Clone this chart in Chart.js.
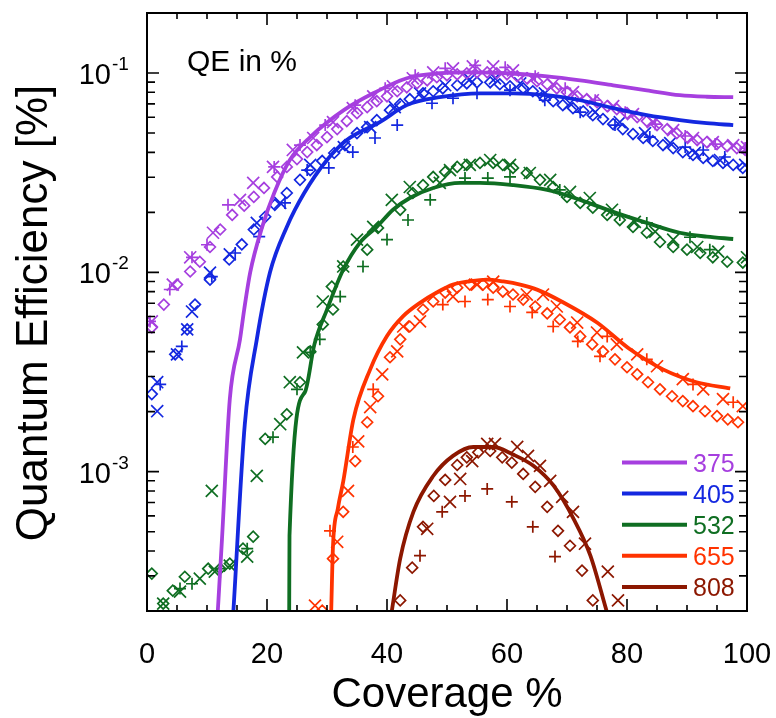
<!DOCTYPE html>
<html>
<head>
<meta charset="utf-8">
<script src="https://cdn.jsdelivr.net/npm/chart.js@4.4.1/dist/chart.umd.min.js"></script>
<style>
  html, body { margin: 0; padding: 0; background: #fff; }
  #wrap { width: 776px; height: 718px; }
</style>
</head>
<body>
<div id="wrap"><canvas id="qeChart" width="776" height="718"></canvas></div>
<script>
// laser wavelengths (nm) and colours
var waves = ['375', '405', '532', '655', '808'];
var colors = ['#a63fdf', '#1428e0', '#0f6e22', '#ff3300', '#8c1700'];

// axis ticks
var xTicks = [0, 20, 40, 60, 80, 100];
var yDecades = [1e-3, 1e-2, 1e-1];
var yExps = ['-3', '-2', '-1'];

// model curves [coverage %, QE %]
var fit375 = [[11.8,0.0002],[12.5,0.00046],[13.8,0.00231],[15.5,0.00461],[16.2,0.00651],[17.2,0.0100],[19.2,0.0169],[21.2,0.0250],[23.8,0.0366],[27.2,0.0477],[32.8,0.0651],[37.7,0.0791],[43.3,0.0941],[48.8,0.0997],[54.3,0.1008],[60,0.0997],[66.7,0.0963],[72.2,0.0919],[77.7,0.0868],[83.3,0.0819],[88.8,0.0774],[93.3,0.0760],[97.7,0.0756]];
var fit405 = [[14.4,0.0002],[16.3,0.00173],[18.3,0.00461],[20.5,0.0100],[23.3,0.0169],[26.2,0.0250],[30,0.0366],[33.3,0.0461],[38.8,0.0567],[43.3,0.0690],[48.8,0.0756],[55.5,0.0791],[61,0.0791],[66.7,0.0774],[72.2,0.0730],[77.7,0.0666],[83.3,0.0614],[88.8,0.0580],[93.3,0.0560],[97.7,0.0548]];
var fit532 = [[23.7,0.0002],[23.75,0.000476],[26.3,0.0025],[27.9,0.00435],[30,0.0065],[32.7,0.0103],[35.5,0.0141],[38.3,0.0169],[41,0.0206],[43.8,0.0236],[47.7,0.0265],[52.2,0.0281],[55.5,0.0281],[61,0.0274],[66.7,0.0259],[72.2,0.0231],[77.7,0.0201],[83.3,0.0177],[88.8,0.0158],[93.3,0.0151],[97.7,0.0147]];
var fit655 = [[30.7,0.0002],[31.0,0.000425],[31.8,0.000651],[32.7,0.000891],[34.4,0.00183],[37.2,0.00326],[40,0.00479],[42.7,0.00603],[45.5,0.00703],[48.3,0.00792],[51,0.00868],[53.8,0.00902],[56.6,0.0092],[59.4,0.0090],[62.2,0.00868],[65,0.00819],[69.4,0.00706],[75,0.0056],[80.5,0.00411],[86,0.00326],[91.6,0.00281],[97.2,0.00262]];
var fit808 = [[40.8,0.0002],[42.2,0.000366],[44.4,0.000628],[47.7,0.000951],[51,0.0012],[54.4,0.00133],[57.7,0.00133],[61,0.00122],[64.4,0.00107],[67.8,0.000848],[71.1,0.00058],[73.9,0.000379],[76.6,0.0002]];

// measured points: dia = diamonds, crs = x, pls = +
var dia375 = [[0.8,0.00529],[2.8,0.00689],[5,0.00868],[7.2,0.0101],[8.8,0.0113],[10.5,0.0134],[12.2,0.0164],[14.2,0.0194],[16.2,0.0216],[17.8,0.0239],[19.5,0.0265],[21.7,0.0301],[23.3,0.0338],[25,0.0370],[26.7,0.0401],[28.3,0.0435],[30,0.0477],[31.7,0.0523],[33.3,0.0574],[35,0.0629],[36.7,0.0674],[38.3,0.0722],[40,0.0764],[41.7,0.0810],[43.3,0.0848],[45,0.0888],[46.7,0.0919],[48.3,0.0952],[50,0.0974],[51.7,0.0985],[53.3,0.0997],[55,0.1008],[56.7,0.1008],[58.3,0.0997],[60,0.0985],[61.7,0.0963],[63.3,0.0941],[65,0.0909],[66.7,0.0878],[68.3,0.0838],[70,0.0801],[71.7,0.0764],[73.3,0.0739],[75,0.0714],[76.7,0.0682],[78.3,0.0659],[80,0.0629],[81.7,0.0601],[83.3,0.0574],[85,0.0548],[86.7,0.0523],[88.3,0.0499],[90,0.0477],[91.7,0.0461],[93.3,0.0450],[95,0.0440],[96.7,0.0430],[98.3,0.0420],[99.7,0.0411]];
var crs375 = [[0.8,0.00567],[4.3,0.00868],[7.2,0.0119],[11,0.0158],[15.5,0.0231],[17.7,0.0281],[21,0.0338],[24.3,0.0411],[27.7,0.0472],[31,0.0567],[34.3,0.0666],[37.7,0.0764],[41,0.0858],[44.3,0.0941],[47.7,0.1008],[51,0.1056],[54.3,0.1080],[57.7,0.1080],[61,0.1031],[64.3,0.0941],[67.7,0.0878],[71,0.0801],[74.3,0.0730],[77.7,0.0682],[81,0.0622],[84.3,0.0567],[87.7,0.0517],[91,0.0472],[94.3,0.0450],[97.7,0.0435],[100,0.0425]];
var pls375 = [[0.5,0.00567],[3.8,0.0082],[7.5,0.0119],[10,0.01375],[13.5,0.0218],[21.2,0.0338],[25.5,0.0435],[29.7,0.0548],[34.7,0.0690],[39.7,0.0838],[44.7,0.0974],[49.7,0.1056],[54.7,0.1093],[59.7,0.1068],[64.7,0.0963],[69.7,0.0838],[74.7,0.0730],[79.7,0.0636],[84.7,0.0554],[89.7,0.0483],[94.7,0.0440],[99.7,0.0420]];

var dia405 = [[0.8,0.00245],[4.7,0.00388],[6.7,0.00517],[8,0.00689],[10.5,0.00919],[13.7,0.0116],[15.8,0.0138],[17.8,0.0164],[19.7,0.0190],[21.3,0.0218],[23.3,0.0250],[25.5,0.0291],[27.2,0.0326],[29.2,0.0362],[31.2,0.0397],[33,0.0435],[35,0.0499],[36.7,0.0535],[38.3,0.0580],[40.5,0.0651],[42.2,0.0698],[43.8,0.0739],[46,0.0791],[47.7,0.0810],[49.3,0.0838],[51.7,0.0868],[53.3,0.0888],[55,0.0898],[57.2,0.0898],[58.8,0.0878],[60.5,0.0858],[62.7,0.0838],[64.3,0.0810],[66,0.0764],[67.7,0.0722],[69.3,0.0690],[71,0.0666],[72.7,0.0643],[74.3,0.0614],[76,0.0587],[77.7,0.0554],[79.3,0.0523],[81,0.0494],[82.7,0.0472],[84.3,0.0456],[86,0.0435],[87.7,0.0420],[89.3,0.0401],[91,0.0388],[92.7,0.0375],[94.3,0.0362],[96,0.0354],[97.7,0.0346],[99.3,0.0334]];
var crs405 = [[1.7,0.00201],[1.7,0.00281],[5,0.00388],[6.7,0.00517],[7.5,0.00636],[10.5,0.00997],[13.8,0.0123],[18.3,0.0177],[22.2,0.0223],[27.2,0.0346],[32.8,0.0425],[37.2,0.0535],[41.3,0.0674],[45.5,0.0791],[49.7,0.0868],[53.8,0.0930],[58,0.0941],[62.2,0.0888],[66.3,0.0791],[70.5,0.0705],[74.7,0.0636],[78.8,0.0567],[83,0.0499],[87.2,0.0445],[91.3,0.0397],[95.5,0.0366],[99.7,0.0346]];
var pls405 = [[2.2,0.00274],[5.8,0.00425],[10.8,0.00952],[14.7,0.0125],[18.7,0.0151],[23,0.0223],[26.7,0.0326],[30.3,0.0334],[34.3,0.0401],[38,0.0472],[41.7,0.0548],[47.5,0.0705],[51,0.0747],[55,0.0791],[60.5,0.0820],[66.3,0.0730],[72.2,0.0636],[78,0.0548],[83.8,0.0477],[89.7,0.0425],[92.7,0.0411],[96.3,0.0379]];

var dia532 = [[0.8,0.000308],[2.7,0.000218],[4.3,0.000253],[6.3,0.000297],[10.2,0.000326],[12.2,0.000326],[13.8,0.000346],[16,0.000411],[17.7,0.000472],[19.7,0.00146],[23.3,0.00194],[25.5,0.00281],[27.2,0.00401],[29.3,0.00548],[30.8,0.00848],[31,0.00651],[32.7,0.0107],[36.7,0.0130],[38.5,0.0167],[42.2,0.0206],[44.3,0.0250],[46,0.0274],[47.7,0.0301],[49.7,0.0319],[51.7,0.0338],[53.3,0.0346],[55.5,0.0354],[57.7,0.0354],[59.3,0.0346],[61,0.0334],[63.3,0.0315],[65.5,0.0291],[67.7,0.0268],[70,0.0239],[72.2,0.0223],[74.3,0.0211],[76.7,0.0194],[78.8,0.0183],[81,0.0169],[83.3,0.0158],[85.5,0.0142],[87.7,0.0134],[90,0.0130],[92.2,0.0125],[94.3,0.0119],[96.7,0.0113],[99.3,0.0112]];
var crs532 = [[2.7,0.000218],[5.5,0.00025],[8.8,0.000291],[10.8,0.000801],[11.3,0.000315],[13.8,0.000338],[16.7,0.000375],[18.3,0.000952],[22.2,0.00173],[23.8,0.00281],[26,0.00397],[29.3,0.00714],[32.7,0.0107],[35,0.0146],[37.7,0.0169],[40.8,0.0231],[43.8,0.0268],[48.8,0.0281],[50.5,0.0326],[53.8,0.0346],[57.2,0.0366],[60.5,0.0346],[63.8,0.0315],[67.2,0.0291],[70.5,0.0253],[73.8,0.0236],[77.5,0.0206],[81.3,0.0179],[84.7,0.0160],[87.7,0.0146],[91.7,0.0134],[95.2,0.0127],[100,0.0119]];
var pls532 = [[5.5,0.000259],[7.5,0.000274],[12.2,0.000326],[16.7,0.000411],[21,0.00149],[25,0.00259],[27.2,0.00397],[28.8,0.00461],[32.2,0.00756],[36,0.0107],[40,0.0146],[43.5,0.0183],[47.2,0.0231],[53,0.0297],[56.8,0.0297],[60.5,0.0301],[68.8,0.0259],[78.8,0.0194],[83.3,0.0177],[90.5,0.0150],[93.8,0.0130]];

var dia655 = [[29.2,0.000201],[31,0.000366],[32.7,0.000629],[34.7,0.00113],[36.7,0.00177],[38.5,0.00239],[40.5,0.00375],[42.2,0.00461],[43.8,0.00535],[46,0.00651],[47.7,0.00714],[49.7,0.00792],[51.7,0.00838],[53.8,0.00868],[56,0.00868],[57.7,0.00838],[59.3,0.00801],[61,0.00774],[62.7,0.0073],[64.7,0.00674],[66.7,0.00622],[68.8,0.0058],[70.5,0.00529],[72.2,0.00477],[74.2,0.00435],[76,0.00401],[78,0.00366],[80,0.00334],[81.7,0.00308],[83.5,0.00281],[85.5,0.00259],[87.5,0.00239],[89.3,0.00226],[91,0.00213],[93,0.00201],[95,0.0019],[96.8,0.00183],[98.5,0.00177]];
var crs655 = [[28,0.000213],[31.7,0.000445],[33.5,0.000801],[35.2,0.00142],[37.2,0.00211],[39.2,0.00308],[41.7,0.00401],[42.7,0.00535],[45.5,0.00567],[51,0.00756],[55,0.00868],[57.7,0.00898],[63.3,0.00774],[66,0.00774],[68.3,0.00674],[71.7,0.0056],[75,0.00499],[78.3,0.00435],[81.7,0.00388],[85,0.00338],[89.3,0.00291],[92.7,0.00259],[96,0.00231],[99.3,0.00213]];
var pls655 = [[30.5,0.000505],[34.3,0.00133],[37.7,0.00259],[49.3,0.00689],[53,0.00714],[56.8,0.0073],[60.5,0.00674],[64.2,0.00629],[67.7,0.00535],[71.8,0.0045],[75.5,0.00379],[76.7,0.00477],[83.3,0.00366],[91,0.00274],[97.7,0.00223]];

var dia808 = [[42.2,0.000226],[44.2,0.00033],[46,0.000529],[47.8,0.000756],[49.7,0.000909],[51.7,0.00108],[53.3,0.00118],[55.2,0.00125],[57.2,0.00127],[59.2,0.00118],[60.8,0.00111],[62.7,0.000974],[64.7,0.000839],[66.7,0.000666],[68.5,0.000505],[70.5,0.000425],[72.5,0.000319],[74.3,0.000226]];
var crs808 = [[46.7,0.000517],[50.5,0.000706],[52.2,0.000919],[54.2,0.00113],[56.7,0.00138],[58,0.00138],[61.7,0.00133],[63.5,0.0012],[65.5,0.00107],[67.2,0.000899],[69.2,0.000747],[71,0.000629],[73,0.000435],[76.8,0.000315],[78.5,0.000226]];
var pls808 = [[45.5,0.000379],[49.2,0.000629],[53,0.000756],[56.7,0.000819],[60.8,0.000706],[64.3,0.000529],[68,0.000375]];

var fits = [fit375, fit405, fit532, fit655, fit808];
var dias = [dia375, dia405, dia532, dia655, dia808];
var crss = [crs375, crs405, crs532, crs655, crs808];
var plss = [pls375, pls405, pls532, pls655, pls808];

var FONT = '"Liberation Sans", Arial, sans-serif';

// fit lines first so they sit on top of the markers
var datasets = [];
for (var i = 0; i < waves.length; i++) {
  datasets.push({
    label: waves[i], data: fits[i], showLine: true,
    borderColor: colors[i], borderWidth: 3.8, pointRadius: 0,
    cubicInterpolationMode: 'monotone'
  });
}
function markers(data, color, style, r) {
  return {
    data: data, showLine: false, pointStyle: style, pointRadius: r,
    borderColor: color, backgroundColor: 'rgba(0,0,0,0)', borderWidth: 1.7
  };
}
for (var i = 0; i < waves.length; i++) {
  datasets.push(markers(dias[i], colors[i], 'rectRot', 5.4));
  datasets.push(markers(crss[i], colors[i], 'crossRot', 8.5));
  datasets.push(markers(plss[i], colors[i], 'cross', 6));
}

// frame, inward ticks, labels and legend
var axesFrame = {
  id: 'axesFrame',
  afterDatasetsDraw: function (chart) {
    var ctx = chart.ctx, a = chart.chartArea;
    var xs = chart.scales.x, ys = chart.scales.y;
    ctx.save();
    ctx.strokeStyle = '#000';
    ctx.lineWidth = 1.6;
    ctx.beginPath();
    for (var v = 0; v <= 100; v += 5) {
      var px = xs.getPixelForValue(v);
      var len = xTicks.indexOf(v) >= 0 ? 12 : 6;
      ctx.moveTo(px, a.bottom); ctx.lineTo(px, a.bottom - len);
      ctx.moveTo(px, a.top); ctx.lineTo(px, a.top + len);
    }
    for (var e = -4; e <= -1; e++) {
      for (var m = 1; m <= 9; m++) {
        var val = m * Math.pow(10, e);
        if (val < ys.min * 1.01 || val > ys.max * 0.99) continue;
        var py = ys.getPixelForValue(val);
        var l = m === 1 ? 12 : 8;
        ctx.moveTo(a.left, py); ctx.lineTo(a.left + l, py);
        ctx.moveTo(a.right, py); ctx.lineTo(a.right - l, py);
      }
    }
    ctx.stroke();
    ctx.lineWidth = 2;
    ctx.strokeRect(a.left, a.top, a.right - a.left, a.bottom - a.top);

    ctx.fillStyle = '#000';
    // x tick labels
    ctx.font = '29px ' + FONT;
    ctx.textAlign = 'center';
    ctx.textBaseline = 'alphabetic';
    xTicks.forEach(function (t) {
      ctx.fillText(String(t), xs.getPixelForValue(t), a.bottom + 52);
    });
    // y tick labels 10^n
    yDecades.forEach(function (d, k) {
      var py = ys.getPixelForValue(d);
      ctx.font = '29px ' + FONT;
      ctx.textAlign = 'right';
      ctx.fillText('10', a.left - 36, py + 11);
      ctx.font = '19px ' + FONT;
      ctx.textAlign = 'left';
      ctx.fillText(yExps[k], a.left - 35, py - 3);
    });
    // axis titles
    ctx.font = '42px ' + FONT;
    ctx.textAlign = 'center';
    ctx.fillText('Coverage %', (a.left + a.right) / 2, 707);
    ctx.save();
    ctx.translate(47, 313);
    ctx.rotate(-Math.PI / 2);
    ctx.font = '44px ' + FONT;
    ctx.fillText('Quantum Efficiency [%]', 0, 0);
    ctx.restore();
    // note inside the plot
    ctx.font = '30px ' + FONT;
    ctx.textAlign = 'left';
    ctx.fillText('QE in %', a.left + 40, a.top + 58);
    // legend
    ctx.font = '25px ' + FONT;
    for (var i = 0; i < waves.length; i++) {
      var ly = a.top + 449.5 + i * 31.1;
      ctx.strokeStyle = colors[i];
      ctx.lineWidth = 4;
      ctx.beginPath();
      ctx.moveTo(a.right - 125, ly); ctx.lineTo(a.right - 60, ly);
      ctx.stroke();
      ctx.fillStyle = colors[i];
      ctx.fillText(waves[i], a.right - 54, ly + 9);
    }
    ctx.restore();
  }
};

new Chart(document.getElementById('qeChart'), {
  type: 'scatter',
  data: { datasets: datasets },
  options: {
    responsive: false,
    animation: false,
    devicePixelRatio: 1,
    layout: { padding: { left: 147, right: 29, top: 13, bottom: 107 } },
    plugins: { legend: { display: false }, tooltip: { enabled: false } },
    scales: {
      x: { type: 'linear', min: 0, max: 100, display: false },
      y: { type: 'logarithmic', min: 0.0002, max: 0.2, display: false }
    }
  },
  plugins: [axesFrame]
});
</script>
</body>
</html>
